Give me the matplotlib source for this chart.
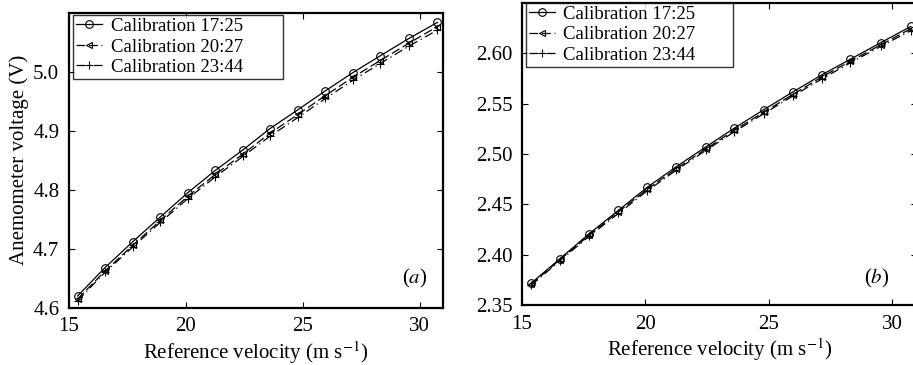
import matplotlib
matplotlib.use('Agg')
import matplotlib.pyplot as plt
import numpy as np

plt.rcParams['font.family'] = ['Liberation Serif', 'DejaVu Serif']
plt.rcParams['mathtext.fontset'] = 'stix'

# reference velocities (m/s), same for every calibration
velocity = [15.37, 16.54, 17.73, 18.91, 20.08, 21.26, 22.45,
            23.60, 24.80, 25.97, 27.15, 28.30, 29.55, 30.76]

labels = ['Calibration 17:25', 'Calibration 20:27', 'Calibration 23:44']

# panel (a)
volt_a_1725 = [4.620, 4.668, 4.712, 4.754, 4.795, 4.833, 4.868,
               4.904, 4.936, 4.968, 4.999, 5.027, 5.057, 5.084]
volt_a_2027 = [4.615, 4.662, 4.706, 4.748, 4.789, 4.826, 4.861,
               4.896, 4.928, 4.960, 4.991, 5.019, 5.049, 5.077]
volt_a_2344 = [4.612, 4.660, 4.703, 4.745, 4.785, 4.822, 4.857,
               4.891, 4.923, 4.955, 4.986, 5.014, 5.044, 5.071]

# panel (b)
volt_b_1725 = [2.3716, 2.3960, 2.4210, 2.4440, 2.4670, 2.4875, 2.5070,
               2.5256, 2.5440, 2.5615, 2.5786, 2.5940, 2.6107, 2.6267]
volt_b_2027 = [2.3705, 2.3950, 2.4195, 2.4425, 2.4650, 2.4855, 2.5050,
               2.5235, 2.5415, 2.5590, 2.5765, 2.5920, 2.6085, 2.6245]
volt_b_2344 = [2.3695, 2.3940, 2.4185, 2.4410, 2.4635, 2.4840, 2.5035,
               2.5220, 2.5400, 2.5575, 2.5745, 2.5905, 2.6070, 2.6225]

styles = [dict(ls='-', marker='o', mfc='none', ms=5.5),
          dict(ls=(0, (7, 3)), marker='<', mfc='none', ms=5),
          dict(ls=(0, (7, 3, 1, 3)), marker='+', ms=6)]

fs = 15
fs_leg = 13.5

fig = plt.figure(figsize=(9.13, 3.65), dpi=100)
ax1 = fig.add_axes([69/913, 57.3/365, 374/913, 294.7/365])
ax2 = fig.add_axes([522/913, 60/365, 394.7/913, 302/365])


def draw(ax, series, ylim, yticks, yfmt, tag, legbox, tagpos):
    for vals, lab, st in zip(series, labels, styles):
        ax.plot(velocity, vals, color='k', lw=0.9, mew=0.8, label=lab, **st)
    ax.set_xlim(15, 31)
    ax.set_ylim(*ylim)
    ax.set_xticks([15, 20, 25, 30])
    ax.set_yticks(yticks)
    ax.set_yticklabels([yfmt % v for v in yticks])
    ax.tick_params(direction='in', length=4, width=0.8, top=True,
                   right=True, labelsize=fs)
    ax.tick_params(axis='x', pad=7)
    ax.tick_params(axis='y', pad=7)
    for sp in ax.spines.values():
        sp.set_linewidth(1.6)
    ax.set_xlabel(r'Reference velocity (m s$^{-1}$)', fontsize=fs, labelpad=2)
    leg = ax.legend(loc='upper left', bbox_to_anchor=legbox, mode='expand',
                    fontsize=fs_leg, frameon=True, fancybox=False,
                    borderpad=0.15, labelspacing=0.18, handlelength=1.4,
                    handletextpad=0.45, borderaxespad=0.0, numpoints=1)
    leg.get_frame().set_edgecolor('k')
    leg.get_frame().set_linewidth(1.0)
    ax.text(tagpos[0], tagpos[1], tag, transform=ax.transAxes, ha='center',
            va='center', fontsize=fs)


draw(ax1, [volt_a_1725, volt_a_2027, volt_a_2344], (4.6, 5.1),
     [4.6, 4.7, 4.8, 4.9, 5.0], '%.1f', r'($a$)',
     (0.011, 0.993, 0.561, 0.0), (0.925, 0.10))
ax1.set_ylabel('Anemometer voltage (V)', fontsize=fs, labelpad=3)

draw(ax2, [volt_b_1725, volt_b_2027, volt_b_2344], (2.35, 2.65),
     [2.35, 2.40, 2.45, 2.50, 2.55, 2.60], '%.2f', r'($b$)',
     (0.01, 1.0, 0.525, 0.0), (0.899, 0.088))

fig.savefig('out.png', dpi=100)
